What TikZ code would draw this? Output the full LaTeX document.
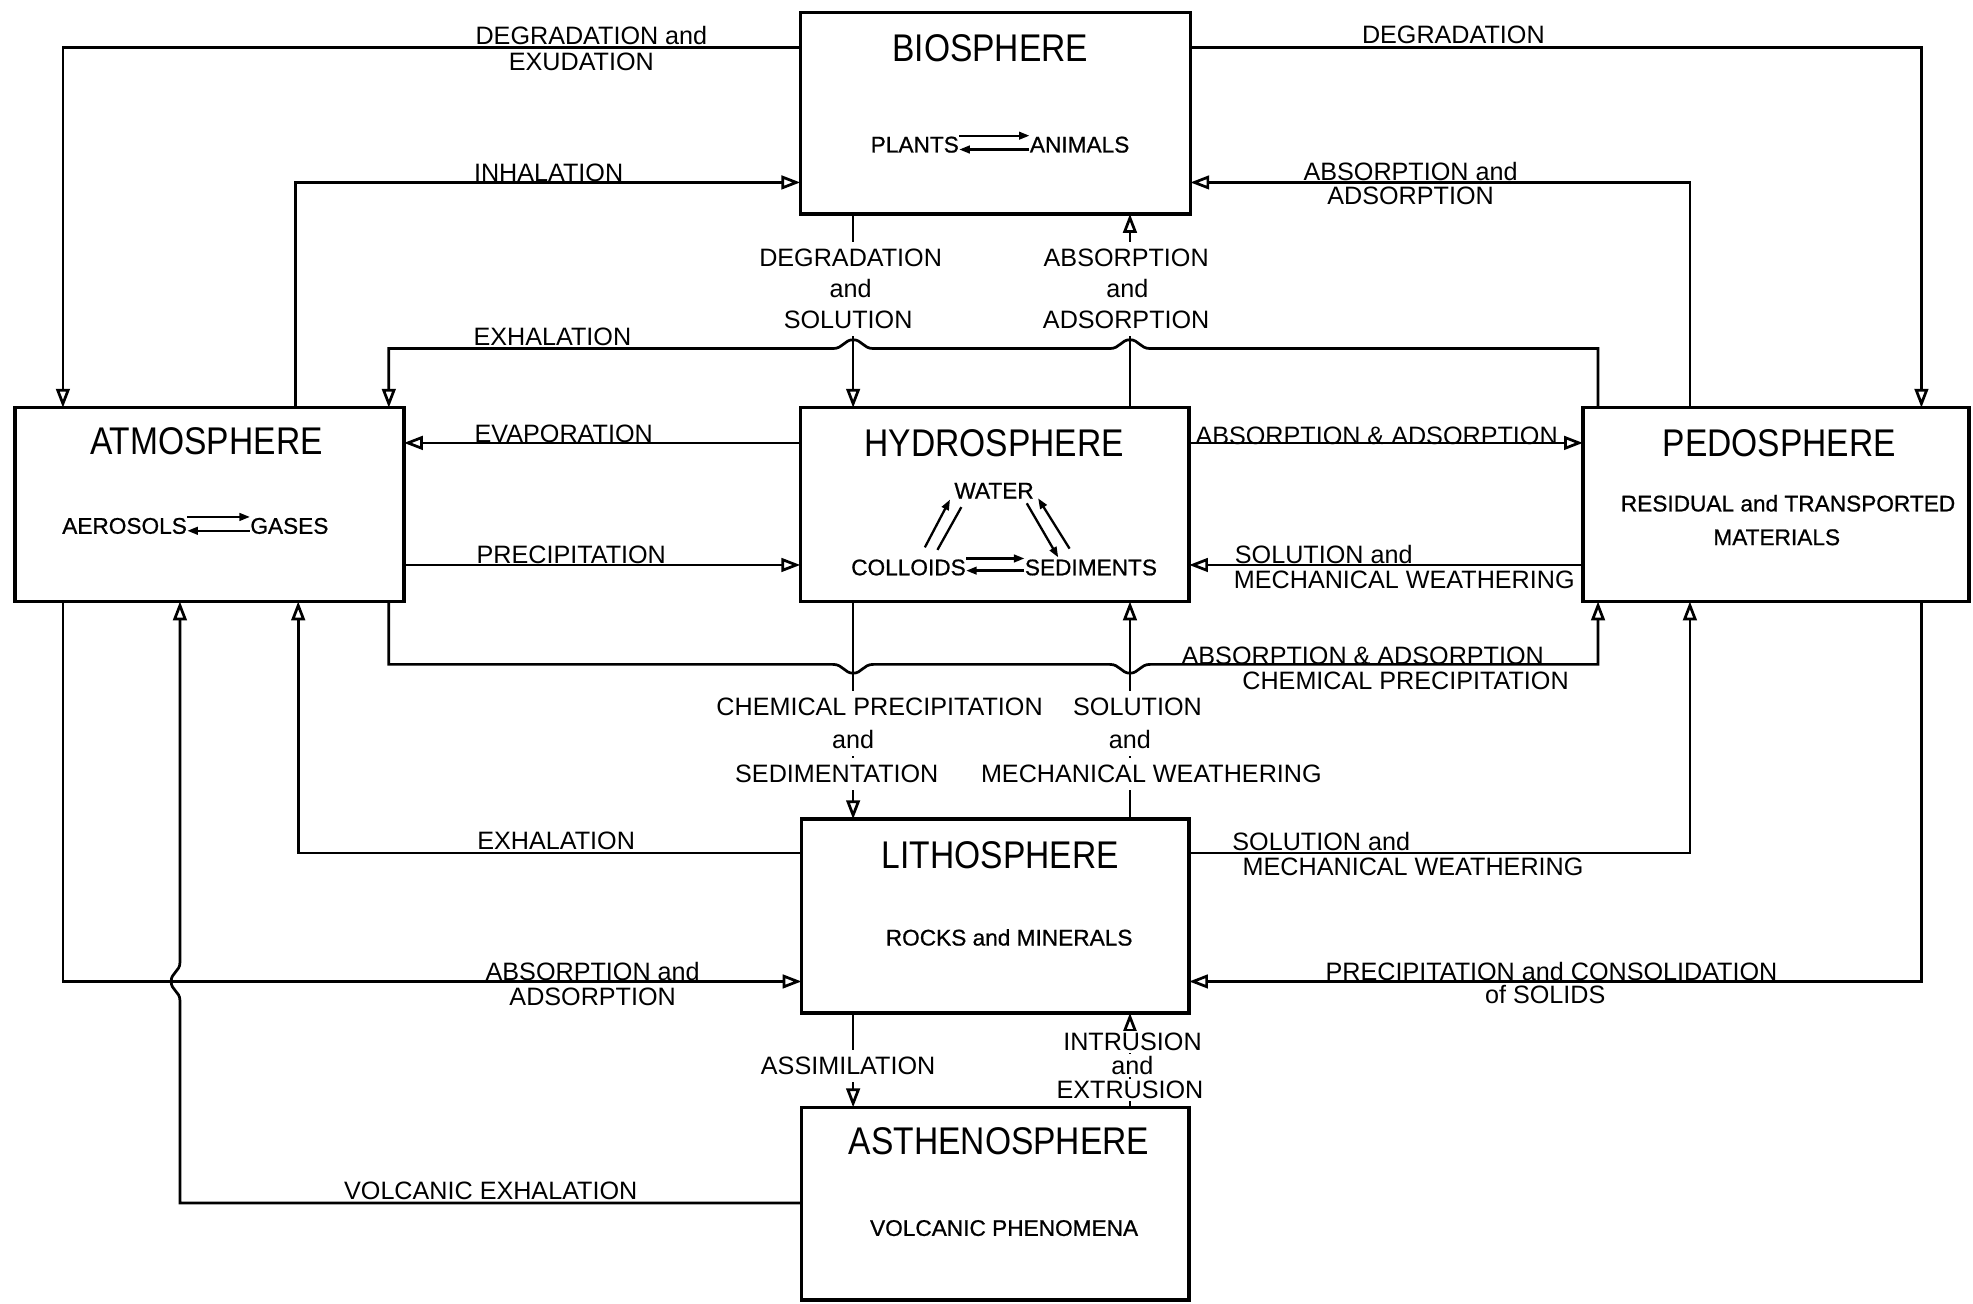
\documentclass[tikz,border=0pt]{standalone}
\usepackage{fontspec}
\setmainfont{Liberation Sans}
\newfontfamily\titlefam[FakeStretch=0.87]{Liberation Sans}
\newfontfamily\innfam[FakeBold=0.8]{Liberation Sans}
\usetikzlibrary{arrows.meta,calc}
\newcommand\mylabfont{\fontsize{12}{14}\selectfont}
\newcommand\myttlfont{\titlefam\fontsize{18.4}{22}\selectfont}
\newcommand\myinnfont{\innfam\fontsize{10.8}{13}\selectfont}
\begin{document}
\begin{tikzpicture}[x={(0.6pt,0)}, y={(0,-0.6pt)},
  box/.style={draw, line width=1.7pt, anchor=north west, inner sep=0pt, outer sep=0pt},
  conn/.style={line width=1.3pt},
  arr/.style={conn, -{Triangle[open, length=9pt, width=6.5pt]}},
  lab/.style={inner sep=0pt, font=\mylabfont},
  vlab/.style={lab, fill=white, inner xsep=2pt, inner ysep=3.5pt},
  vlabs/.style={lab, fill=white, inner xsep=2pt, inner ysep=1pt},
  ttl/.style={inner sep=0pt, font=\myttlfont},
  intext/.style={inner sep=0pt, font=\myinnfont},
  eq/.style={line width=1.1pt, -{Triangle[length=5pt, width=3.6pt]}}
]
\useasboundingbox (0,0) rectangle (1568,1036);

% ---------- boxes ----------
\node[box, minimum width=186pt, minimum height=96pt] (bio) at (636,10) {};
\node[box, minimum width=185.4pt, minimum height=92.4pt] (atm) at (12,324) {};
\node[box, minimum width=185.4pt, minimum height=92.4pt] (hyd) at (636,324) {};
\node[box, minimum width=184.2pt, minimum height=92.4pt] (ped) at (1258,324) {};
\node[box, minimum width=184.8pt, minimum height=92.4pt] (lit) at (637,651) {};
\node[box, minimum width=184.8pt, minimum height=91.8pt] (ast) at (637,880) {};

% ---------- titles ----------
\node[ttl] (bioT) at (787,38) {BIOSPHERE};
\node[ttl] (atmT) at (164,351) {ATMOSPHERE};
\node[ttl] (hydT) at (790,352) {HYDROSPHERE};
\node[ttl] (pedT) at (1414,352) {PEDOSPHERE};
\node[ttl] (litT) at (795,680) {LITHOSPHERE};
\node[ttl] (astT) at (794,907) {ASTHENOSPHERE};

% ---------- inner texts ----------
\node[intext] (plants) at (727,115) {PLANTS};
\node[intext] (animals) at (858,115) {ANIMALS};
\draw[eq] ([yshift=4.3pt]plants.east) -- ([yshift=4.3pt]animals.west);
\draw[eq] ([yshift=-2.3pt]animals.west) -- ([yshift=-2.3pt]plants.east);

\node[intext] (aero) at (99,418) {AEROSOLS};
\node[intext] (gases) at (230,418) {GASES};
\draw[eq] ([yshift=4.3pt]aero.east) -- ([yshift=4.3pt]gases.west);
\draw[eq] ([yshift=-2.3pt]gases.west) -- ([yshift=-2.3pt]aero.east);

\node[intext] (water) at (790,390) {WATER};
\node[intext] (coll) at (722,451) {COLLOIDS};
\node[intext] (sed) at (867,451) {SEDIMENTS};
\draw[eq] ([yshift=4.3pt]coll.east) -- ([yshift=4.3pt]sed.west);
\draw[eq] ([yshift=-1.5pt]sed.west) -- ([yshift=-1.5pt]coll.east);
\draw[eq] ($(water)+(-55,45)$) -- ($(water)+(-35,7)$);
\draw[line width=1.1pt] ($(water)+(-26,13)$) -- ($(water)+(-45,47)$);
\draw[eq] ($(water)+(26,10)$) -- ($(water)+(51,53)$);
\draw[eq] ($(water)+(60,46)$) -- ($(water)+(35,6)$);

\node[intext] (resid) at (1421,400) {RESIDUAL and TRANSPORTED};
\node[intext] (mater) at (1412,427) {MATERIALS};
\node[intext] (rocks) at (802,745) {ROCKS and MINERALS};
\node[intext] (volc) at (798,976) {VOLCANIC PHENOMENA};

% ---------- connectors ----------
% 1 degradation and exudation
\draw[arr] ($(bio.north west)+(0,28)$) -| ($(atm.north west)+(38,0)$);
% 2 inhalation
\draw[arr] ($(atm.north west)+(223,0)$) |- ($(bio.north west)+(0,135)$);
% 3 exhalation (pedosphere -> atmosphere)
\draw[arr] ($(ped.north west)+(12,0)$) |- (914,277)
  .. controls (906,277) and (905,270) .. (898,270)
  .. controls (891,270) and (890,277) .. (882,277) -- (694,277)
  .. controls (686,277) and (685,270) .. (678,270)
  .. controls (671,270) and (670,277) .. (662,277)
  -| ($(atm.north west)+(297,0)$);
% 4 degradation and solution
\draw[arr] ($(bio.south west)+(42,0)$) -- ($(hyd.north west)+(42,0)$);
% 5 absorption and adsorption
\draw[arr] ($(hyd.north west)+(262,0)$) -- ($(bio.south west)+(262,0)$);
% 6 evaporation
\draw[arr] ($(hyd.north west)+(0,28)$) -- ($(atm.north east)+(0,28)$);
% 7 precipitation
\draw[arr] ($(atm.north east)+(0,125)$) -- ($(hyd.north west)+(0,125)$);
% 8 absorption & adsorption
\draw[arr] ($(hyd.north east)+(0,28)$) -- ($(ped.north west)+(0,28)$);
% 9 solution and mechanical weathering
\draw[arr] ($(ped.north west)+(0,125)$) -- ($(hyd.north east)+(0,125)$);
% 10 degradation
\draw[arr] ($(bio.north east)+(0,28)$) -| ($(ped.north west)+(269,0)$);
% 11 absorption and adsorption
\draw[arr] ($(ped.north west)+(85,0)$) |- ($(bio.north east)+(0,135)$);
% 12 absorption & adsorption, chemical precipitation
\draw[arr] ($(atm.south west)+(297,0)$) |- (662,528)
  .. controls (670,528) and (671,535) .. (678,535)
  .. controls (685,535) and (686,528) .. (694,528) -- (882,528)
  .. controls (890,528) and (891,535) .. (898,535)
  .. controls (905,535) and (906,528) .. (914,528)
  -| ($(ped.south west)+(12,0)$);
% 13 chemical precipitation and sedimentation
\draw[arr] ($(hyd.south west)+(42,0)$) -- ($(lit.north west)+(41,0)$);
% 14 solution and mechanical weathering
\draw[arr] ($(lit.north west)+(261,0)$) -- ($(hyd.south west)+(262,0)$);
% 15 exhalation
\draw[arr] ($(lit.north west)+(0,27)$) -| ($(atm.south west)+(225,0)$);
% 16 absorption and adsorption
\draw[arr] ($(atm.south west)+(38,0)$) |- ($(lit.north west)+(0,129)$);
% 17 volcanic exhalation
\draw[arr] ($(ast.north west)+(0,76)$) -| (143,795)
  .. controls (143,788) and (136,787) .. (136,780)
  .. controls (136,773) and (143,772) .. (143,765)
  -- ($(atm.south west)+(131,0)$);
% 18 solution and mechanical weathering
\draw[arr] ($(lit.north east)+(0,27)$) -| ($(ped.south west)+(85,0)$);
% 19 precipitation and consolidation of solids
\draw[arr] ($(ped.south west)+(269,0)$) |- ($(lit.north east)+(0,129)$);
% 20 assimilation
\draw[arr] ($(lit.south west)+(41,0)$) -- ($(ast.north west)+(41,0)$);
% 21 intrusion and extrusion
\draw[arr] ($(ast.north west)+(261,0)$) -- ($(lit.south west)+(261,0)$);

% ---------- labels ----------
\node[lab] (l1a) at (470,28) {DEGRADATION and};
\node[lab] (l1b) at (462,49) {EXUDATION};
\node[lab] (l2) at (436,137) {INHALATION};
\node[lab] (l3) at (439,268) {EXHALATION};
\node[vlab] (l4a) at (676,205) {DEGRADATION};
\node[vlab] (l4b) at (676,229) {and};
\node[vlab] (l4c) at (674,254) {SOLUTION};
\node[vlab] (l5a) at (895,205) {ABSORPTION};
\node[vlab] (l5b) at (896,229) {and};
\node[vlab] (l5c) at (895,254) {ADSORPTION};
\node[lab] (l6) at (448,345) {EVAPORATION};
\node[lab] (l7) at (454,441) {PRECIPITATION};
\node[lab] (l8) at (1094,346) {ABSORPTION \& ADSORPTION};
\node[lab] (l9a) at (1052,441) {SOLUTION and};
\node[lab] (l9b) at (1116,461) {MECHANICAL WEATHERING};
\node[lab] (l10) at (1155,28) {DEGRADATION};
\node[lab] (l11a) at (1121,136) {ABSORPTION and};
\node[lab] (l11b) at (1121,156) {ADSORPTION};
\node[lab] (l12a) at (1083,521) {ABSORPTION \& ADSORPTION};
\node[lab] (l12b) at (1117,541) {CHEMICAL PRECIPITATION};
\node[vlab] (l13a) at (699,562) {CHEMICAL PRECIPITATION};
\node[vlab] (l13b) at (678,588) {and};
\node[vlab] (l13c) at (665,615) {SEDIMENTATION};
\node[vlab] (l14a) at (904,562) {SOLUTION};
\node[vlab] (l14b) at (898,588) {and};
\node[vlab] (l14c) at (915,615) {MECHANICAL WEATHERING};
\node[lab] (l15) at (442,668) {EXHALATION};
\node[lab] (l16a) at (471,772) {ABSORPTION and};
\node[lab] (l16b) at (471,792) {ADSORPTION};
\node[lab] (l17) at (390,946) {VOLCANIC EXHALATION};
\node[lab] (l18a) at (1050,669) {SOLUTION and};
\node[lab] (l18b) at (1123,689) {MECHANICAL WEATHERING};
\node[lab] (l19a) at (1233,772) {PRECIPITATION and CONSOLIDATION};
\node[lab] (l19b) at (1228,790) {of SOLIDS};
\node[vlab] (l20) at (674,847) {ASSIMILATION};
\node[vlabs] (l21a) at (900,828) {INTRUSION};
\node[vlabs] (l21b) at (900,847) {and};
\node[vlabs] (l21c) at (898,866) {EXTRUSION};
\end{tikzpicture}
\end{document}
